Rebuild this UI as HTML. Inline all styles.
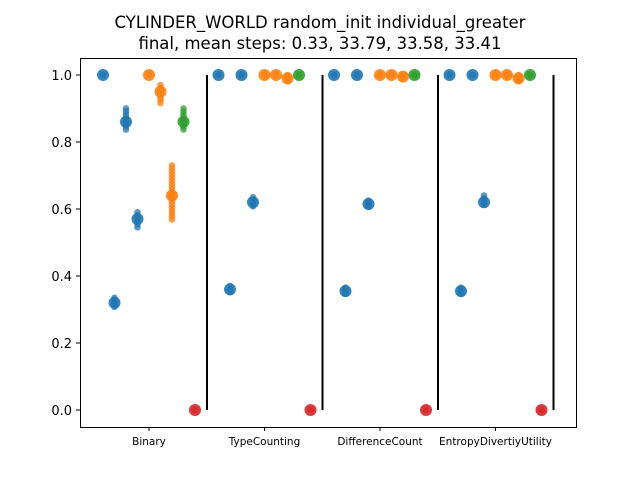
<!DOCTYPE html>
<html><head><meta charset="utf-8"><style>
body{margin:0;background:#fff;font-family:"DejaVu Sans","Liberation Sans",sans-serif}
</style></head><body>
<svg id="c" width="640" height="480" xmlns="http://www.w3.org/2000/svg" font-family="DejaVu Sans, Liberation Sans, sans-serif">
<text x="320" y="28" text-anchor="middle" font-size="16.5">CYLINDER_WORLD random_init individual_greater</text>
<text x="320" y="49" text-anchor="middle" font-size="16.5">final, mean steps: 0.33, 33.79, 33.58, 33.41</text>
<g id="marks"></g>
<rect x="80.5" y="58.5" width="496" height="369" fill="none" stroke="#000" stroke-width="1"/>
<g id="axes"></g>
</svg>
<script>
const groups=["Binary","TypeCounting","DifferenceCount","EntropyDivertiyUtility"];
const colors=["#1f77b4","#1f77b4","#1f77b4","#1f77b4","#ff7f0e","#ff7f0e","#ff7f0e","#2ca02c","#d62728"];
const values=[
 [1.0,0.32,0.86,0.57,1.0,0.95,0.64,0.86,0.0],
 [1.0,0.36,1.0,0.62,1.0,1.0,0.99,1.0,0.0],
 [1.0,0.355,1.0,0.615,1.0,1.0,0.995,1.0,0.0],
 [1.0,0.355,1.0,0.62,1.0,1.0,0.99,1.0,0.0]];
const lows=[
 [1.0,0.30,0.83,0.545,1.0,0.91,0.56,0.83,0.0],
 [1.0,0.35,1.0,0.605,1.0,1.0,0.975,1.0,0.0],
 [1.0,0.345,1.0,0.605,1.0,1.0,0.99,1.0,0.0],
 [1.0,0.345,1.0,0.605,1.0,1.0,0.975,1.0,0.0]];
const highs=[
 [1.0,0.335,0.90,0.59,1.0,0.97,0.73,0.90,0.0],
 [1.0,0.37,1.0,0.635,1.0,1.0,1.0,1.0,0.0],
 [1.0,0.365,1.0,0.625,1.0,1.0,1.0,1.0,0.0],
 [1.0,0.365,1.0,0.64,1.0,1.0,1.0,1.0,0.0]];
const yTicks=[0.0,0.2,0.4,0.6,0.8,1.0];
const NS="http://www.w3.org/2000/svg";
const y=v=>410-v*335;
const gx=i=>149+i*115.5;
const px=(i,j)=>gx(i)+(j-4)*11.5;
const marks=document.getElementById('marks'),axes=document.getElementById('axes');
function mk(t,a,p){const e=document.createElementNS(NS,t);for(const k in a)e.setAttribute(k,a[k]);p.appendChild(e);return e;}
groups.forEach((g,i)=>{
 values[i].forEach((v,j)=>{
  const x=px(i,j);
  for(let s=y(highs[i][j]);s<=y(lows[i][j]);s+=3){
   const d=mk('circle',{cx:x,cy:s,r:3.3,fill:colors[j],opacity:0.75},marks);
   
   
  }
  const c=mk('circle',{cx:x,cy:y(v),r:6,fill:colors[j],opacity:0.9},marks);
  
  
 });
 const l=mk('line',{x1:gx(i)+58,x2:gx(i)+58,y1:y(1),y2:y(0),stroke:'#000','stroke-width':2},marks);
 
 
 const t=mk('line',{x1:gx(i),x2:gx(i),y1:427,y2:431,stroke:'#000'},axes);
 
 
 const tx=mk('text',{x:gx(i),y:445,'text-anchor':'middle','font-size':10.5},axes);
 tx.textContent=g;
 
 
});
yTicks.forEach(v=>{
 const t=mk('line',{x1:76,x2:80,y1:y(v),y2:y(v),stroke:'#000'},axes);
 
 
 const tx=mk('text',{x:72,y:y(v)+5,'text-anchor':'end','font-size':13},axes);
 tx.textContent=v.toFixed(1);
 
 
});
</script>
</body></html>
